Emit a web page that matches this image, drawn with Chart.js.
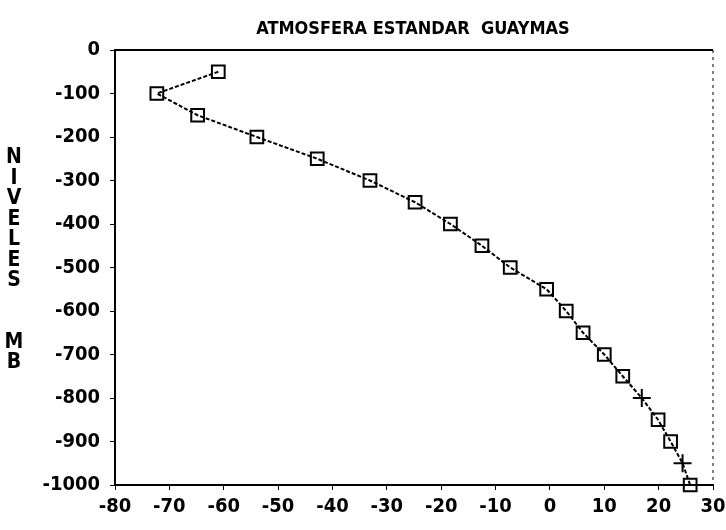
<!DOCTYPE html>
<html>
<head>
<meta charset="utf-8">
<script src="https://cdn.jsdelivr.net/npm/chart.js@4/dist/chart.umd.min.js"></script>
<style>
html,body{margin:0;padding:0;background:#fff;}
#wrap{width:726px;height:530px;position:relative;}
</style>
</head>
<body>
<div id="wrap"><canvas id="c" width="726" height="530"></canvas></div>
<script>
const TITLE = "ATMOSFERA ESTANDAR  GUAYMAS";
const Y_TITLE = ["N","I","V","E","L","E","S","","","M","B"];
const levels = [-50,-100,-150,-200,-250,-300,-350,-400,-450,-500,-550,-600,-650,-700,-750,-800,-850,-900,-950,-1000];
const temps  = [-61,-72.3,-64.8,-53.9,-42.8,-33.1,-24.8,-18.3,-12.5,-7.3,-0.6,3.0,6.1,10.0,13.4,16.9,19.9,22.2,24.4,25.8];
const markers = ["rect","rect","rect","rect","rect","rect","rect","rect","rect","rect","rect","rect","rect","rect","rect","cross","rect","rect","cross","rect"];
const xTicks = [-80,-70,-60,-50,-40,-30,-20,-10,0,10,20,30];
const yTicks = [0,-100,-200,-300,-400,-500,-600,-700,-800,-900,-1000];

const FONT = "'DejaVu Sans Condensed','Liberation Sans',sans-serif";

const points = temps.map((t,i)=>({x:t,y:levels[i]}));

const decor = {
  id:'decor',
  afterDraw(chart){
    const {ctx, chartArea:a} = chart;
    ctx.save();
    ctx.strokeStyle='#000';
    ctx.lineWidth=2;
    ctx.beginPath(); ctx.moveTo(a.left,a.top); ctx.lineTo(a.right,a.top); ctx.stroke();
    ctx.lineWidth=1;
    ctx.setLineDash([3,4]);
    ctx.beginPath(); ctx.moveTo(a.right,a.top); ctx.lineTo(a.right,a.bottom); ctx.stroke();
    ctx.setLineDash([]);
    ctx.fillStyle='#000';
    ctx.font = "bold 18px "+FONT;
    ctx.textAlign='center'; ctx.textBaseline='middle';
    ctx.fillText(TITLE, 413, 29);
    ctx.font = "bold 21px "+FONT;
    Y_TITLE.forEach((ch,i)=>{ if(ch) ctx.fillText(ch, 14, 158 + i*20.5); });
    ctx.restore();
  }
};

new Chart(document.getElementById('c'), {
  type:'scatter',
  data:{datasets:[{
    data:points,
    showLine:true,
    clip:false,
    borderColor:'#000',
    borderWidth:2,
    borderDash:[4,2],
    pointStyle:markers,
    pointRadius:9,
    pointBorderWidth:2,
    pointBorderColor:'#000',
    pointBackgroundColor:'rgba(0,0,0,0)',
    fill:false
  }]},
  options:{
    responsive:false,
    animation:false,
    layout:{padding:{top:50,right:13,left:0,bottom:0}},
    plugins:{legend:{display:false},tooltip:{enabled:false},title:{display:false}},
    scales:{
      x:{
        type:'linear', min:-80, max:30,
        afterBuildTicks(s){ s.ticks = xTicks.map(v=>({value:v})); },
        afterFit(s){ s.height = 45; s.paddingLeft = 0; s.paddingRight = 0; },
        grid:{drawOnChartArea:false, drawTicks:true, tickLength:5, color:'#000', lineWidth:1},
        border:{display:true, color:'#000', width:2},
        ticks:{color:'#000', padding:5, maxRotation:0, autoSkip:false, callback:v=>String(v), font:{family:FONT, size:20, weight:'bold'}}
      },
      y:{
        type:'linear', min:-1000, max:0,
        afterBuildTicks(s){ s.ticks = yTicks.map(v=>({value:v})); },
        afterFit(s){ s.width = 115; s.paddingTop = 0; s.paddingBottom = 0; },
        grid:{drawOnChartArea:false, drawTicks:true, tickLength:5, color:'#000', lineWidth:1},
        border:{display:true, color:'#000', width:2},
        ticks:{color:'#000', padding:10, autoSkip:false, callback:v=>String(v), font:{family:FONT, size:20, weight:'bold'}}
      }
    }
  },
  plugins:[decor]
});
</script>
</body>
</html>
